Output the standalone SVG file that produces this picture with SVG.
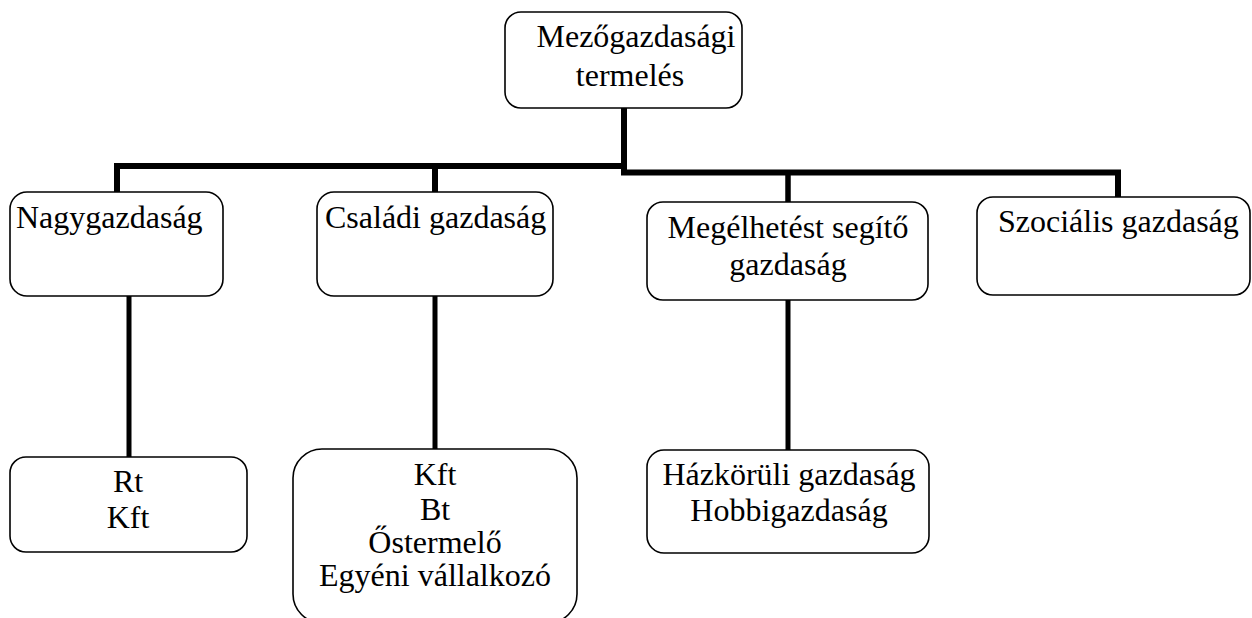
<svg xmlns="http://www.w3.org/2000/svg" width="1252" height="618" viewBox="0 0 1252 618">
<style>
.box{fill:#fff;stroke:#000;stroke-width:1.6}
.t{font-family:"Liberation Serif","Times New Roman",serif;font-size:32px;fill:#000}
.m{text-anchor:middle}
.c{fill:none;stroke:#000;stroke-linejoin:miter;stroke-linecap:butt}
</style>
<rect width="1252" height="618" fill="#fff"/>
<g id="connectors">
<path class="c" stroke-width="6" d="M117,192 V166 H625"/>
<path class="c" stroke-width="6" d="M624,108 V172.5 H1118 V197"/>
<path class="c" stroke-width="6" d="M435,166 V192"/>
<path class="c" stroke-width="5.5" d="M788,172.5 V202"/>
<path class="c" stroke-width="5" d="M129,296 V457"/>
<path class="c" stroke-width="5" d="M435,296 V449"/>
<path class="c" stroke-width="5" d="M788,300 V450"/>
</g>
<g id="node-mezogazdasagi">
<rect class="box" x="505" y="12" width="237" height="96" rx="16"/>
<text class="t m" x="636" y="47">Mezőgazdasági</text>
<text class="t m" x="630" y="86">termelés</text>
</g>
<g id="node-nagygazdasag">
<rect class="box" x="10" y="192" width="213" height="104" rx="17"/>
<text class="t" x="16" y="228">Nagygazdaság</text>
</g>
<g id="node-csaladi">
<rect class="box" x="317" y="192" width="236" height="104" rx="17"/>
<text class="t" x="325" y="228">Családi gazdaság</text>
</g>
<g id="node-megelhetest">
<rect class="box" x="647" y="202" width="281" height="98" rx="16"/>
<text class="t m" x="788" y="238">Megélhetést segítő</text>
<text class="t m" x="788" y="275">gazdaság</text>
</g>
<g id="node-szocialis">
<rect class="box" x="977" y="197" width="273" height="98" rx="16"/>
<text class="t" x="998" y="232">Szociális gazdaság</text>
</g>
<g id="node-rt-kft">
<rect class="box" x="10" y="457" width="237" height="95" rx="16"/>
<text class="t m" x="128" y="492">Rt</text>
<text class="t m" x="128" y="528">Kft</text>
</g>
<g id="node-kft-bt">
<rect class="box" x="293" y="449" width="284" height="174" rx="29"/>
<text class="t m" x="435" y="485">Kft</text>
<text class="t m" x="435" y="520">Bt</text>
<text class="t m" x="435" y="553">Őstermelő</text>
<text class="t m" x="435" y="586">Egyéni vállalkozó</text>
</g>
<g id="node-hazkoruli">
<rect class="box" x="647" y="450" width="282" height="103" rx="17"/>
<text class="t m" x="789" y="485">Házkörüli gazdaság</text>
<text class="t m" x="789" y="521">Hobbigazdaság</text>
</g>
</svg>
